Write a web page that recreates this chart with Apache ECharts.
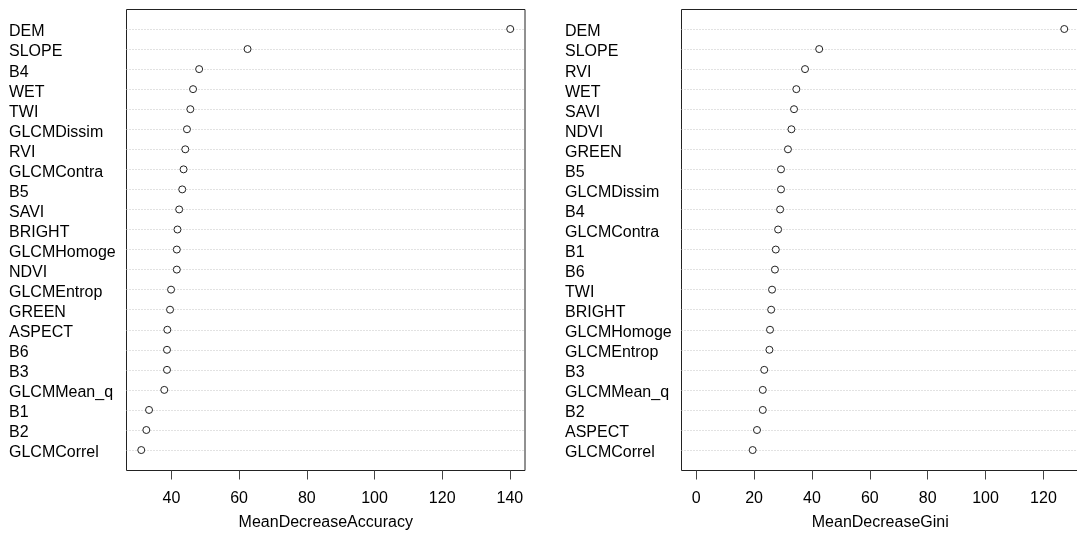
<!DOCTYPE html>
<html>
<head>
<meta charset="utf-8">
<script src="https://cdn.jsdelivr.net/npm/echarts@6/dist/echarts.min.js"></script>
<style>
html,body{margin:0;padding:0;background:#fff;}
#c{width:1077px;height:533px;}
</style>
</head>
<body>
<div id="c"></div>
<script>
const catsAcc = ['DEM','SLOPE','B4','WET','TWI','GLCMDissim','RVI','GLCMContra','B5','SAVI','BRIGHT','GLCMHomoge','NDVI','GLCMEntrop','GREEN','ASPECT','B6','B3','GLCMMean_q','B1','B2','GLCMCorrel'];
const valsAcc = [140.1,62.5,48.2,46.4,45.6,44.6,44.1,43.6,43.2,42.3,41.8,41.6,41.6,39.9,39.6,38.8,38.7,38.7,37.9,33.4,32.6,31.1];
const catsGini = ['DEM','SLOPE','RVI','WET','SAVI','NDVI','GREEN','B5','GLCMDissim','B4','GLCMContra','B1','B6','TWI','BRIGHT','GLCMHomoge','GLCMEntrop','B3','GLCMMean_q','B2','ASPECT','GLCMCorrel'];
const valsGini = [127.2,42.5,37.6,34.6,33.8,32.9,31.7,29.3,29.3,29.0,28.3,27.5,27.2,26.2,25.9,25.5,25.3,23.5,23.0,23.0,21.0,19.5];
const ticksAcc = [40,60,80,100,120,140];
const ticksGini = [0,20,40,60,80,100,120];
const titleAcc = 'MeanDecreaseAccuracy';
const titleGini = 'MeanDecreaseGini';

function rng(lo, hi){ const p = 0.04*(hi-lo); return [lo-p, hi+p]; }
const rA = rng(Math.min(...valsAcc), Math.max(...valsAcc));
const rG = rng(0, Math.max(...valsGini));

const FONT = '"Liberation Sans", Arial, sans-serif';
const rowTop = 18.975, rowH = 441.1;

function outerX(gi, r, ticks, name){
  return {
    gridIndex: gi, type:'value', min:r[0], max:r[1],
    axisLine:{show:false},
    splitLine:{show:false},
    axisTick:{show:true, customValues:ticks, length:9, lineStyle:{color:'#444', width:1}},
    axisLabel:{show:true, customValues:ticks, margin:20, fontSize:16, color:'#000', fontFamily:FONT},
    name:name, nameLocation:'middle', nameGap:44,
    nameTextStyle:{fontSize:16, color:'#000', fontFamily:FONT}
  };
}
function innerX(gi, r){
  return {gridIndex:gi, type:'value', min:r[0], max:r[1], show:false};
}
function catY(gi, cats, margin){
  return {
    gridIndex:gi, type:'category', data:cats, inverse:true,
    axisLine:{show:false}, axisTick:{show:false}, splitLine:{show:false},
    axisLabel:{align:'left', verticalAlign:'top', lineHeight:6, margin:margin, fontSize:16, color:'#000', fontFamily:FONT, interval:0}
  };
}
function pts(xi, cats, vals){
  return [{
    type:'scatter', xAxisIndex:xi, yAxisIndex:xi, z:1, symbol:'none', silent:true,
    data: vals.map((v,i)=>[v, cats[i]]),
    markLine:{
      silent:true, symbol:['none','none'], z:1,
      label:{show:false},
      lineStyle:{color:'#c4c4c4', type:[1,2], width:1},
      emphasis:{disabled:true},
      data: cats.map(c=>({yAxis:c}))
    }
  },{
    type:'scatter', xAxisIndex:xi, yAxisIndex:xi, z:10, silent:true,
    symbol:'circle', symbolSize:7,
    itemStyle:{color:'#fff', borderColor:'#222', borderWidth:1, opacity:1},
    data: vals.map((v,i)=>[v, cats[i]])
  }];
}

const G = {outerBoundsMode:'none', containLabel:false};
const chart = echarts.init(document.getElementById('c'), null, {renderer:'canvas'});
chart.setOption({
  animation:false,
  backgroundColor:'#fff',
  grid:[
    Object.assign({left:126.5, top:9.5, width:398.5, height:461, show:true, borderColor:'#222', borderWidth:1, backgroundColor:'transparent'}, G),
    Object.assign({left:126.5, top:rowTop, width:398.5, height:rowH}, G),
    Object.assign({left:681.5, top:9.5, right:-2, height:461, show:true, borderColor:'#222', borderWidth:1, backgroundColor:'transparent'}, G),
    Object.assign({left:681.5, top:rowTop, right:-2, height:rowH}, G)
  ],
  xAxis:[
    outerX(0, rA, ticksAcc, titleAcc),
    innerX(1, rA),
    outerX(2, rG, ticksGini, titleGini),
    innerX(3, rG)
  ],
  yAxis:[
    {gridIndex:0, type:'value', show:false},
    catY(1, catsAcc, 117.5),
    {gridIndex:2, type:'value', show:false},
    catY(3, catsGini, 116.5)
  ],
  series:[].concat(pts(1, catsAcc, valsAcc), pts(3, catsGini, valsGini))
});
</script>
</body>
</html>
